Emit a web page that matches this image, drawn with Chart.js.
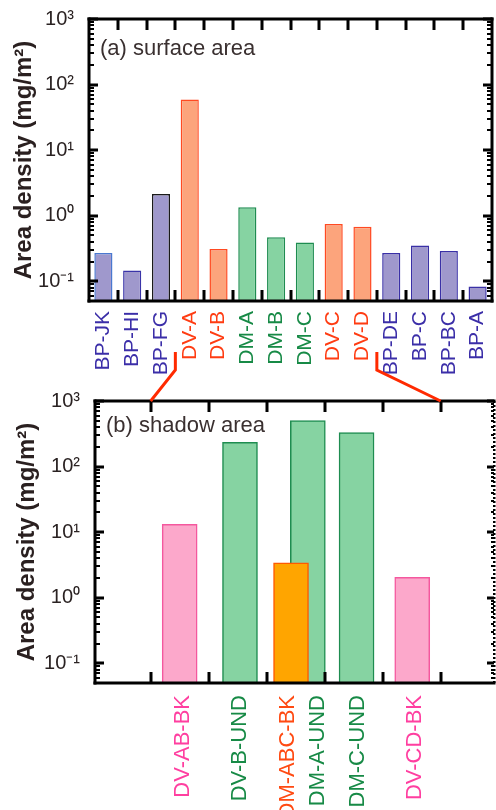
<!DOCTYPE html>
<html><head><meta charset="utf-8">
<script src="https://cdn.jsdelivr.net/npm/chart.js@4.4.0/dist/chart.umd.min.js"></script>
<style>
html,body{margin:0;padding:0;background:#fff;}
body{width:496px;height:810px;overflow:hidden;position:relative;}
canvas{position:absolute;left:0;display:block;}
#c1{top:0}
#c2{top:390px}
#ov{top:0;pointer-events:none}
</style></head><body>
<canvas id="c1" width="496" height="390"></canvas>
<canvas id="c2" width="496" height="500"></canvas>
<canvas id="ov" width="496" height="810"></canvas>
<script>
// ---- data ----
const surfaceCategories = ['BP-JK','BP-HI','BP-FG','DV-A','DV-B','DM-A','DM-B','DM-C','DV-C','DV-D','BP-DE','BP-C','BP-BC','BP-A'];
const surfaceGroups = ['BP','BP','BP','DV','DV','DM','DM','DM','DV','DV','BP','BP','BP','BP'];
const surfaceValues = [0.27,0.146,2.14,59,0.31,1.34,0.47,0.39,0.75,0.68,0.27,0.35,0.29,0.083];

const shadowCategories = ['DV-AB-BK','DV-B-UND','DM-ABC-BK','DM-A-UND','DM-C-UND','DV-CD-BK'];
const shadowGroups = ['BK','UND','ABC','UND','UND','BK'];
const shadowValues = [13.2,235,3.4,502,330,2.04];
const shadowSlots = [1.0,2.04,2.92,3.21,4.05,5.01];
const shadowLabelSlots = [1.05,2.04,2.87,3.39,4.08,5.06];
const shadowFront = ['DM-ABC-BK'];

const yTickValues = [0.1,1,10,100,1000];
const yTickLabels = ['10⁻¹','10⁰','10¹','10²','10³'];

// ---- styles ----
const FONT = '"Liberation Sans", Arial, Helvetica, sans-serif';
Chart.defaults.font.family = FONT;
const surfFill = {BP:'#9f98cc', DV:'#fca47c', DM:'#86d3a2'};
const surfBorder = {BP:'#3a30a6', DV:'#ff4a22', DM:'#1e8c50'};
const surfBorderOverride = {'BP-JK':'#4a78d0','BP-HI':'#3a34a8','BP-FG':'#1a1a1a'};
const surfLabel = {BP:'#3b2ea8', DV:'#ff3c12', DM:'#178a46'};
const shFill = {BK:'#fca8cb', UND:'#86d3a2', ABC:'#ffa500'};
const shBorder = {BK:'#f4589e', UND:'#1e8c50', ABC:'#ff5a00'};
const shLabel = {BK:'#ff3fa0', UND:'#178a46', ABC:'#ff4a12'};

function framePlugin(o){
  return {id:'frame', afterDraw(chart){
    const ctx = chart.ctx, a = chart.chartArea;
    const y = chart.scales.y, x = chart.scales.x;
    ctx.save();
    ctx.globalAlpha = 1;
    ctx.globalCompositeOperation = 'source-over';
    ctx.setLineDash([]);
    ctx.fillStyle = '#000';
    const L = Math.round(a.left), R = Math.round(a.right), T = Math.round(a.top), B = Math.round(a.bottom);
    const ymin = y.min, ymax = y.max;
    const lo = Math.floor(Math.log10(ymin)), hi = Math.ceil(Math.log10(ymax));
    for(let e=lo;e<=hi;e++){
      for(let m=1;m<=9;m++){
        const v = m*Math.pow(10,e);
        if(v<ymin*0.999||v>ymax*1.001) continue;
        const py = Math.round(y.getPixelForValue(v));
        const major = m===1;
        const th = major?3:2, len = major?9:5;
        ctx.fillRect(L, py-th/2, len, th);
        if(o.dottedRight){
          ctx.fillRect(R-(major?7:3), py-th/2, major?7:3, th);
        } else {
          ctx.fillRect(R-len, py-th/2, len, th);
        }
      }
    }
    o.boundaries(x).forEach(px=>{
      px = Math.round(px);
      ctx.fillRect(px-1.5, T, 3, 11);
      ctx.fillRect(px-1.5, B-11, 3, 11);
    });
    // spines
    ctx.fillRect(L-1.5, T-1.5, 3, B-T+3);
    ctx.fillRect(L-1.5, T-1.5, R-L+3, 3);
    ctx.fillRect(L-1.5, B-1.5, R-L+3, 3);
    if(o.dottedRight){
      for(let yy=T; yy<B; yy+=4) ctx.fillRect(R-1, yy, 2.5, 2);
    } else {
      ctx.fillRect(R-1.5, T-1.5, 3, B-T+3);
    }
    ctx.fillStyle = '#3a3030';
    ctx.font = '22px '+FONT;
    ctx.textBaseline = 'alphabetic';
    ctx.textAlign = 'left';
    ctx.fillText(o.title, a.left+o.tx, a.top+o.ty);
    ctx.restore();
  }};
}

function yAxis(width, titlePad){
  return {
    type:'logarithmic', min:0.05, max:1000,
    afterBuildTicks:(s)=>{ s.ticks = yTickValues.map(v=>({value:v})); },
    afterFit:(s)=>{ s.width = width; s.paddingTop = 0; s.paddingBottom = 0; },
    grid:{display:false}, border:{display:false},
    ticks:{ callback:(v,i)=>yTickLabels[i], font:{size:20}, color:'#2a2222', padding:7, autoSkip:false },
    title:{ display:true, text:'Area density (mg/m²)', font:{size:24, weight:'bold'}, color:'#2a2020', padding:{top:titlePad, bottom:0} }
  };
}

// ---- chart (a) ----
const chart1 = new Chart(document.getElementById('c1'), {
  type:'bar',
  data:{ labels: surfaceCategories, datasets:[{
    data: surfaceValues,
    backgroundColor: surfaceGroups.map(g=>surfFill[g]),
    borderColor: surfaceCategories.map((c,i)=>surfBorderOverride[c]||surfBorder[surfaceGroups[i]]),
    borderWidth:1.5, barPercentage:0.63, categoryPercentage:1
  }]},
  options:{
    responsive:false, animation:false, events:[],
    layout:{padding:{left:0,right:4,top:19,bottom:0}},
    plugins:{legend:{display:false}, tooltip:{enabled:false}},
    scales:{
      x:{ offset:true,
          afterFit:(s)=>{ s.height = 89; s.paddingLeft = 0; s.paddingRight = 0; },
          grid:{display:false}, border:{display:false},
          ticks:{ minRotation:90, maxRotation:90, autoSkip:false, padding:2, font:{size:21},
                  color:(c)=>surfLabel[surfaceGroups[c.index]] } },
      y: yAxis(89, 10)
    }
  },
  plugins:[framePlugin({title:'(a) surface area', tx:11, ty:36, dottedRight:false,
    boundaries:(x)=>{ const r=[]; for(let i=0;i<surfaceCategories.length-1;i++) r.push((x.getPixelForValue(i)+x.getPixelForValue(i+1))/2); return r; }})]
});

// ---- chart (b) ----
const pts = shadowCategories.map((c,i)=>({x:shadowSlots[i], y:shadowValues[i], c, g:shadowGroups[i]}));
const frontPts = pts.filter(p=>shadowFront.includes(p.c));
const backPts = pts.filter(p=>!shadowFront.includes(p.c));
const mkDs = (arr)=>({
  data: arr.map(p=>({x:p.x, y:p.y})),
  backgroundColor: arr.map(p=>shFill[p.g]),
  borderColor: arr.map(p=>shBorder[p.g]),
  borderWidth:1.5, barThickness:35, grouped:false
});
const chart2 = new Chart(document.getElementById('c2'), {
  type:'bar',
  data:{ datasets:[ mkDs(frontPts), mkDs(backPts) ] },
  options:{
    responsive:false, animation:false, events:[],
    layout:{padding:{left:0,right:2,top:11,bottom:0}},
    plugins:{legend:{display:false}, tooltip:{enabled:false}},
    scales:{
      x:{ type:'linear', min:-0.46, max:6.42, offset:false, bounds:'data',
          afterBuildTicks:(s)=>{ s.ticks = shadowLabelSlots.map(v=>({value:v})); },
          afterFit:(s)=>{ s.height = 207; s.paddingLeft = 0; s.paddingRight = 0; },
          grid:{display:false}, border:{display:false},
          ticks:{ callback:(v,i)=>shadowCategories[i], minRotation:90, maxRotation:90, autoSkip:false, padding:4,
                  font:{size:22}, color:(c)=>shLabel[shadowGroups[c.index]] } },
      y: yAxis(95, 13)
    }
  },
  plugins:[framePlugin({title:'(b) shadow area', tx:11, ty:31, dottedRight:true,
    boundaries:(x)=>[0.5,1.5,2.5,3.5,4.5,5.5].map(v=>x.getPixelForValue(v))})]
});

// ---- connector lines ----
(function(){
  const ov = document.getElementById('ov').getContext('2d');
  const xs = chart1.scales.x;
  const b1 = (xs.getPixelForValue(2)+xs.getPixelForValue(3))/2;
  const b2 = (xs.getPixelForValue(9)+xs.getPixelForValue(10))/2;
  const x2 = chart2.scales.x;
  const top2 = 390 + chart2.chartArea.top;
  const e1 = x2.getPixelForValue(0.5), e2 = x2.getPixelForValue(5.5);
  const y0 = chart1.chartArea.bottom + 51, yk = chart1.chartArea.bottom + 69;
  ov.strokeStyle = '#ff2a00'; ov.lineWidth = 3; ov.lineJoin='miter';
  [[b1,e1],[b2,e2]].forEach(([s,e])=>{
    ov.beginPath(); ov.moveTo(s,y0); ov.lineTo(s,yk); ov.lineTo(e,top2); ov.stroke();
  });
})();
</script>
</body></html>
